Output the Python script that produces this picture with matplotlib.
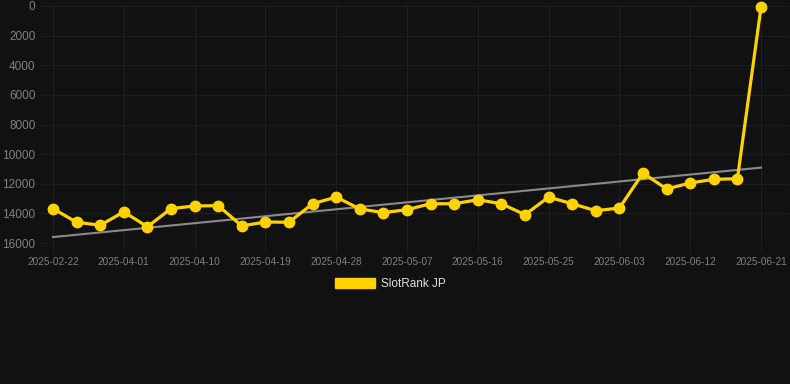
import matplotlib
matplotlib.use("Agg")
import matplotlib.pyplot as plt
from matplotlib.patches import Patch
import numpy as np


# DATA
dates = [
    "2025-02-22", "2025-03-26", "2025-03-29", "2025-04-01", "2025-04-04",
    "2025-04-07", "2025-04-10", "2025-04-13", "2025-04-16", "2025-04-19",
    "2025-04-22", "2025-04-25", "2025-04-28", "2025-05-01", "2025-05-04",
    "2025-05-07", "2025-05-10", "2025-05-13", "2025-05-16", "2025-05-19",
    "2025-05-22", "2025-05-25", "2025-05-28", "2025-05-31", "2025-06-03",
    "2025-06-06", "2025-06-09", "2025-06-12", "2025-06-15", "2025-06-18",
    "2025-06-21",
]
rank = [
    13680, 14600, 14800, 13900, 14900, 13680, 13500, 13480, 14850, 14580,
    14600, 13350, 12900, 13700, 13950, 13750, 13350, 13350, 13080, 13350,
    14090, 12900, 13350, 13820, 13640, 11280, 12350, 11950, 11700, 11660,
    90,
]
# trend line value at first and last date
trend = [15600, 10910]
y_ticks = [0, 2000, 4000, 6000, 8000, 10000, 12000, 14000, 16000]

BG = "#111111"
GRID = "#1f1f1f"
TICK = "#808080"
YELLOW = "#FFD200"

plt.rcParams["font.family"] = ["Liberation Sans", "DejaVu Sans"]

fig = plt.figure(figsize=(7.9, 3.84), dpi=100, facecolor=BG)
ax = fig.add_axes([48 / 790, (384 - 243) / 384, (789 - 48) / 790, 237 / 384])
ax.set_facecolor(BG)

x = np.arange(len(rank))

ax.plot([x[0], x[-1]], trend, color="#8a8a8a", lw=1.5, zorder=2)
ax.plot(x, rank, color=YELLOW, lw=2.3, marker="o", markersize=7.5,
        markerfacecolor=YELLOW, markeredgecolor=YELLOW, zorder=3, clip_on=False)

ax.set_xlim(-5 / 23.6, 30 + 28 / 23.6)
ax.set_ylim(16000, 0)
ax.set_yticks(y_ticks)
ax.set_yticklabels([str(v) for v in y_ticks])
ax.set_xticks(x[::3])
ax.set_xticklabels(dates[::3])

ax.grid(True, color=GRID, lw=0.8)
ax.set_axisbelow(True)
for s in ax.spines.values():
    s.set_visible(False)
ax.tick_params(axis="y", colors=GRID, length=5, width=0.8, pad=4,
               labelcolor=TICK, labelsize=8.5)
ax.tick_params(axis="x", colors=GRID, length=7, width=0.8, pad=3,
               labelcolor=TICK, labelsize=7.2)

handle = Patch(facecolor=YELLOW, edgecolor=YELLOW)
fig.legend([handle], ["SlotRank JP"], loc="center",
           bbox_to_anchor=(390 / 790, 1 - 284 / 384), frameon=False,
           fontsize=8.5, labelcolor="#e0e0e0", handlelength=3.4,
           handleheight=1.0, handletextpad=0.5)

fig.savefig("out.png", dpi=100, facecolor=BG)
